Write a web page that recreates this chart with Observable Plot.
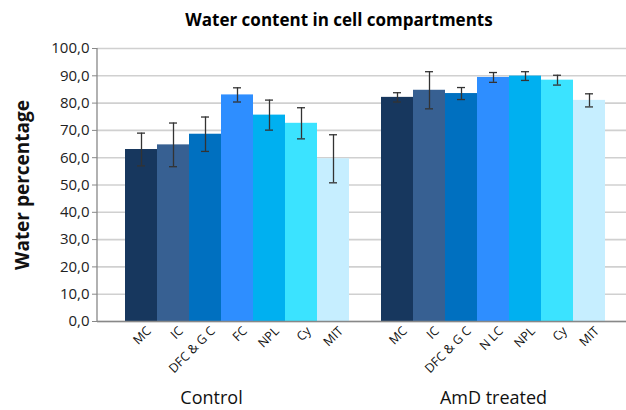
<!DOCTYPE html>
<html>
<head>
<meta charset="utf-8">
<script src="https://cdn.jsdelivr.net/npm/d3@7"></script>
<script src="https://cdn.jsdelivr.net/npm/@observablehq/plot@0.6"></script>
<style>
  body { margin: 0; background: #fff; overflow: hidden; }
  #title { height: 40px; width: 626px; box-sizing: border-box; padding-top: 8px; text-align: center; font: bold 17px "Open Sans", sans-serif; color: #000; padding-left: 52px; }
  svg { display: block; }
</style>
</head>
<body>
<div id="title">Water content in cell compartments</div>
<div id="chart"></div>
<script>
const groups = ["Control", "AmD treated"];
const controlLabels = ["MC", "IC", "DFC & G C", "FC", "NPL", "Cy", "MIT"];
const controlValues = [63.0, 64.7, 68.6, 83.0, 75.6, 72.6, 59.6];
const controlErrors = [6.0, 8.0, 6.3, 2.6, 5.5, 5.7, 8.8];
const amdLabels = ["MC", "IC", "DFC & G C", "N LC", "NPL", "Cy", "MIT"];
const amdValues = [82.1, 84.7, 83.5, 89.4, 89.9, 88.4, 81.0];
const amdErrors = [1.7, 6.8, 2.2, 1.8, 1.6, 1.8, 2.4];
const colors = ["#17375E", "#376092", "#0070C0", "#2E8EFF", "#00B0F0", "#3BE3FF", "#C6EEFF"];
const yTicks = [0, 10, 20, 30, 40, 50, 60, 70, 80, 90, 100];

const rows = [];
controlLabels.forEach((l, i) => rows.push({key: "C|" + l, group: groups[0], label: l, value: controlValues[i], err: controlErrors[i], color: colors[i]}));
amdLabels.forEach((l, i) => rows.push({key: "A|" + l, group: groups[1], label: l, value: amdValues[i], err: amdErrors[i], color: colors[i]}));
const domain = [...rows.slice(0, 7).map(d => d.key), "gap", ...rows.slice(7).map(d => d.key)];

const font = "'Open Sans', sans-serif";
const chart = Plot.plot({
  width: 626,
  height: 370,
  marginLeft: 97,
  marginRight: 0,
  marginTop: 8,
  marginBottom: 89,
  style: {fontFamily: font, background: "#fff", overflow: "visible"},
  x: {domain, range: [123, 607], padding: 0, axis: null},
  y: {domain: [0, 100], axis: null},
  marks: [
    Plot.gridY(yTicks, {stroke: "#d0d0d0", strokeOpacity: 1, strokeWidth: 1.6}),
    Plot.barY(rows, {x: "key", y: "value", fill: "color"}),
    Plot.ruleX(rows, {x: "key", y1: d => d.value - d.err, y2: d => d.value + d.err, stroke: "#333", strokeWidth: 1.3}),
    Plot.tickY(rows, {x: "key", y: d => d.value + d.err, stroke: "#333", strokeWidth: 1.3, insetLeft: 12, insetRight: 12}),
    Plot.tickY(rows, {x: "key", y: d => d.value - d.err, stroke: "#333", strokeWidth: 1.3, insetLeft: 12, insetRight: 12}),
    Plot.ruleY([0], {stroke: "#888", strokeWidth: 1.3}),
    Plot.axisY({ticks: yTicks, label: null, tickFormat: d => d.toFixed(1).replace(".", ","), tickSize: 5, tickPadding: 3, stroke: "#888", fontSize: 15, color: "#222"}),
    Plot.text(rows, {x: "key", text: "label", frameAnchor: "bottom", dy: 4, dx: 4, rotate: -45, textAnchor: "end", fontSize: 12.5, lineAnchor: "top", fill: "#111"}),
    Plot.text([{key: "C|FC", text: groups[0]}], {x: "key", text: "text", frameAnchor: "bottom", dy: 77, dx: -26, lineAnchor: "middle", fontSize: 18, fill: "#111"}),
    Plot.text([{key: "A|N LC", text: groups[1]}], {x: "key", text: "text", frameAnchor: "bottom", dy: 77, dx: 0, lineAnchor: "middle", fontSize: 18, fill: "#111"}),
    Plot.text(["Water percentage"], {frameAnchor: "left", dx: -75, rotate: -90, textAnchor: "middle", fontSize: 19, fontWeight: "bold", fill: "#111"})
  ]
});
// y axis line
const svg = d3.select(chart);
svg.append("line").attr("x1", 97).attr("x2", 97).attr("y1", 8).attr("y2", 281).attr("stroke", "#888").attr("stroke-width", 1.3);
document.getElementById("chart").appendChild(chart);
</script>
</body>
</html>
